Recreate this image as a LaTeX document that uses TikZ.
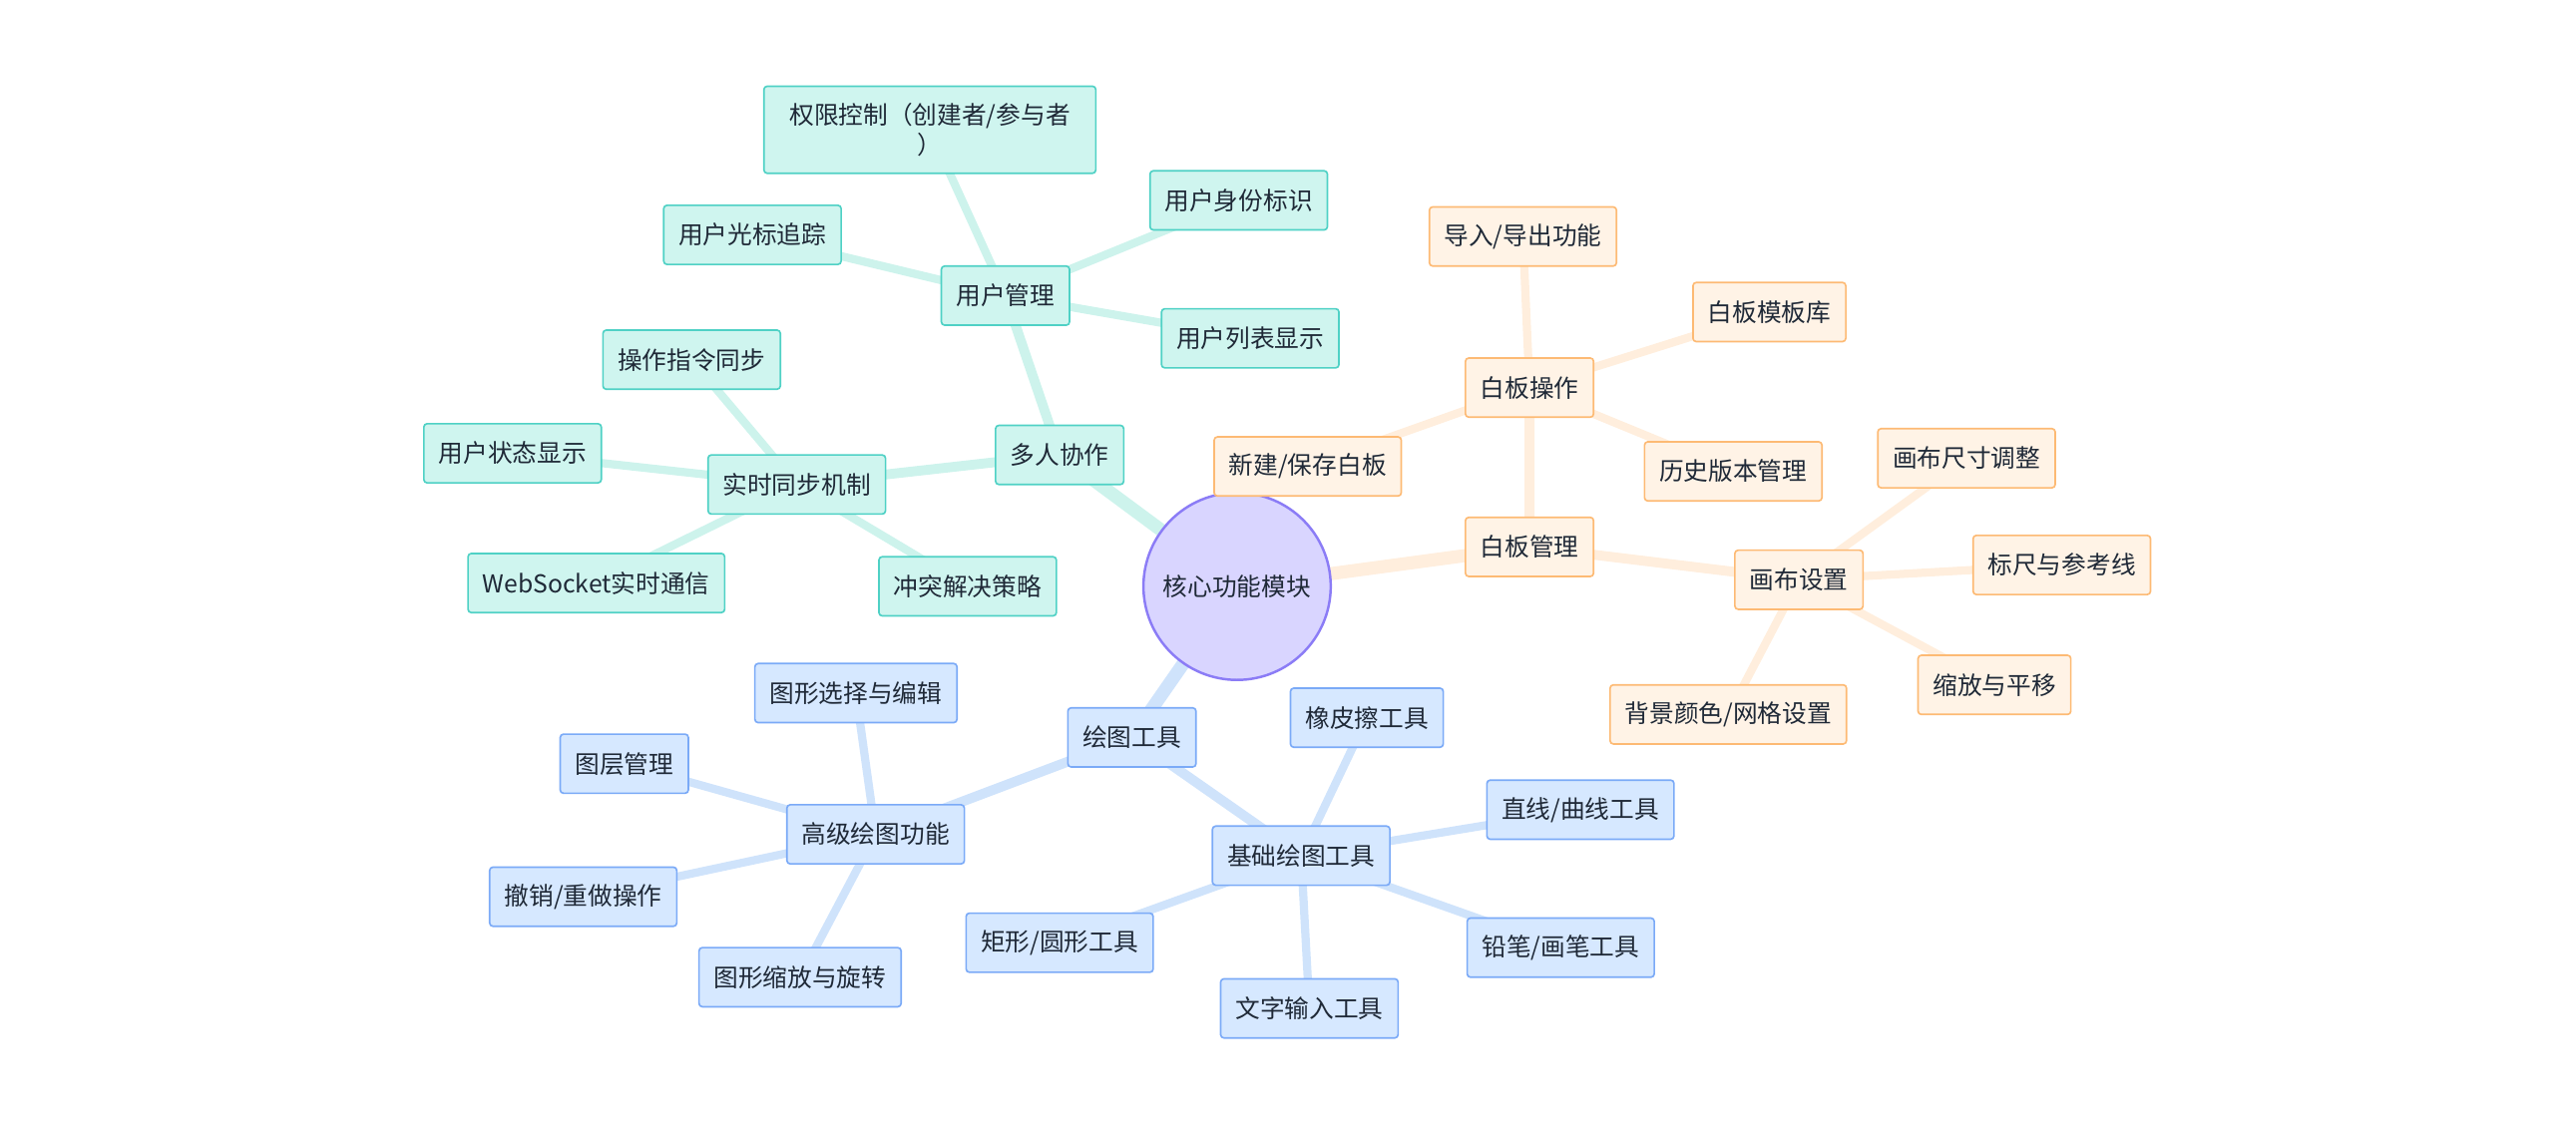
\documentclass[tikz,border=0pt]{standalone}
\usepackage{fontspec}
\setmainfont{Noto Sans CJK SC}
\usetikzlibrary{backgrounds}
\definecolor{tf}{HTML}{CFF5EF}\definecolor{td}{HTML}{4FD1C5}\definecolor{te}{HTML}{CDF3EC}
\definecolor{of}{HTML}{FFF3E6}\definecolor{od}{HTML}{FDBA74}\definecolor{oe}{HTML}{FFEEDD}
\definecolor{bf}{HTML}{D6E8FF}\definecolor{bd}{HTML}{7BAAF7}\definecolor{be}{HTML}{CFE3FB}
\definecolor{cf}{HTML}{D9D5FF}\definecolor{cd}{HTML}{8B7CF6}\definecolor{tx}{HTML}{1F2937}
\tikzset{
 box/.style={draw,line width=1pt,rounded corners=2pt,minimum height=36pt,inner xsep=9pt,text=tx,font=\fontsize{15}{18}\selectfont,align=center},
 tb/.style={box,fill=tf,draw=td}, ob/.style={box,fill=of,draw=od}, bb/.style={box,fill=bf,draw=bd},
 e1/.style={line width=8pt}, e2/.style={line width=6pt}, e3/.style={line width=5pt}}
\begin{document}
\begin{tikzpicture}[x=1pt,y=-1pt]
\useasboundingbox (0,0) rectangle (1568,686);
\node[circle,draw=cd,fill=cf,line width=1.5pt,minimum size=114pt,text=tx,font=\fontsize{15}{18}\selectfont] (c) at (753,357) {核心功能模块};
\node[tb] (a) at (645,277) {多人协作};
\node[tb] (a1) at (612,180) {用户管理};
\node[tb,minimum width=202pt,minimum height=53pt] (a11) at (566,79) {权限控制（创建者/参与者\\）};
\node[tb] (a12) at (754,122) {用户身份标识};
\node[tb] (a13) at (458,143) {用户光标追踪};
\node[tb] (a14) at (761,206) {用户列表显示};
\node[tb] (a2) at (485,295) {实时同步机制};
\node[tb] (a21) at (421,219) {操作指令同步};
\node[tb] (a22) at (312,276) {用户状态显示};
\node[tb] (a23) at (363,355) {WebSocket实时通信};
\node[tb] (a24) at (589,357) {冲突解决策略};
\node[ob] (b) at (931,333) {白板管理};
\node[ob] (b1) at (931,236) {白板操作};
\node[ob] (b11) at (927,144) {导入/导出功能};
\node[ob] (b12) at (1077,190) {白板模板库};
\node[ob] (b13) at (1055,287) {历史版本管理};
\node[ob] (b14) at (796,284) {新建/保存白板};
\node[ob] (b2) at (1095,353) {画布设置};
\node[ob] (b21) at (1197,279) {画布尺寸调整};
\node[ob] (b22) at (1255,344) {标尺与参考线};
\node[ob] (b23) at (1214,417) {缩放与平移};
\node[ob] (b24) at (1052,435) {背景颜色/网格设置};
\node[bb] (d) at (689,449) {绘图工具};
\node[bb] (d1) at (533,508) {高级绘图功能};
\node[bb] (d11) at (521,422) {图形选择与编辑};
\node[bb] (d12) at (380,465) {图层管理};
\node[bb] (d13) at (355,546) {撤销/重做操作};
\node[bb] (d14) at (487,595) {图形缩放与旋转};
\node[bb] (d2) at (792,521) {基础绘图工具};
\node[bb] (d21) at (832,437) {橡皮擦工具};
\node[bb] (d22) at (962,493) {直线/曲线工具};
\node[bb] (d23) at (950,577) {铅笔/画笔工具};
\node[bb] (d24) at (797,614) {文字输入工具};
\node[bb] (d25) at (645,574) {矩形/圆形工具};
\begin{scope}[on background layer]
\draw[te,e1] (c.center)--(a.center);
\draw[te,e2] (a.center)--(a1.center) (a.center)--(a2.center);
\draw[te,e3] (a1.center)--(a11.center) (a1.center)--(a12.center) (a1.center)--(a13.center) (a1.center)--(a14.center);
\draw[te,e3] (a2.center)--(a21.center) (a2.center)--(a22.center) (a2.center)--(a23.center) (a2.center)--(a24.center);
\draw[oe,e1] (c.center)--(b.center);
\draw[oe,e2] (b.center)--(b1.center) (b.center)--(b2.center);
\draw[oe,e3] (b1.center)--(b11.center) (b1.center)--(b12.center) (b1.center)--(b13.center) (b1.center)--(b14.center);
\draw[oe,e3] (b2.center)--(b21.center) (b2.center)--(b22.center) (b2.center)--(b23.center) (b2.center)--(b24.center);
\draw[be,e1] (c.center)--(d.center);
\draw[be,e2] (d.center)--(d1.center) (d.center)--(d2.center);
\draw[be,e3] (d1.center)--(d11.center) (d1.center)--(d12.center) (d1.center)--(d13.center) (d1.center)--(d14.center);
\draw[be,e3] (d2.center)--(d21.center) (d2.center)--(d22.center) (d2.center)--(d23.center) (d2.center)--(d24.center) (d2.center)--(d25.center);
\end{scope}
\end{tikzpicture}
\end{document}
